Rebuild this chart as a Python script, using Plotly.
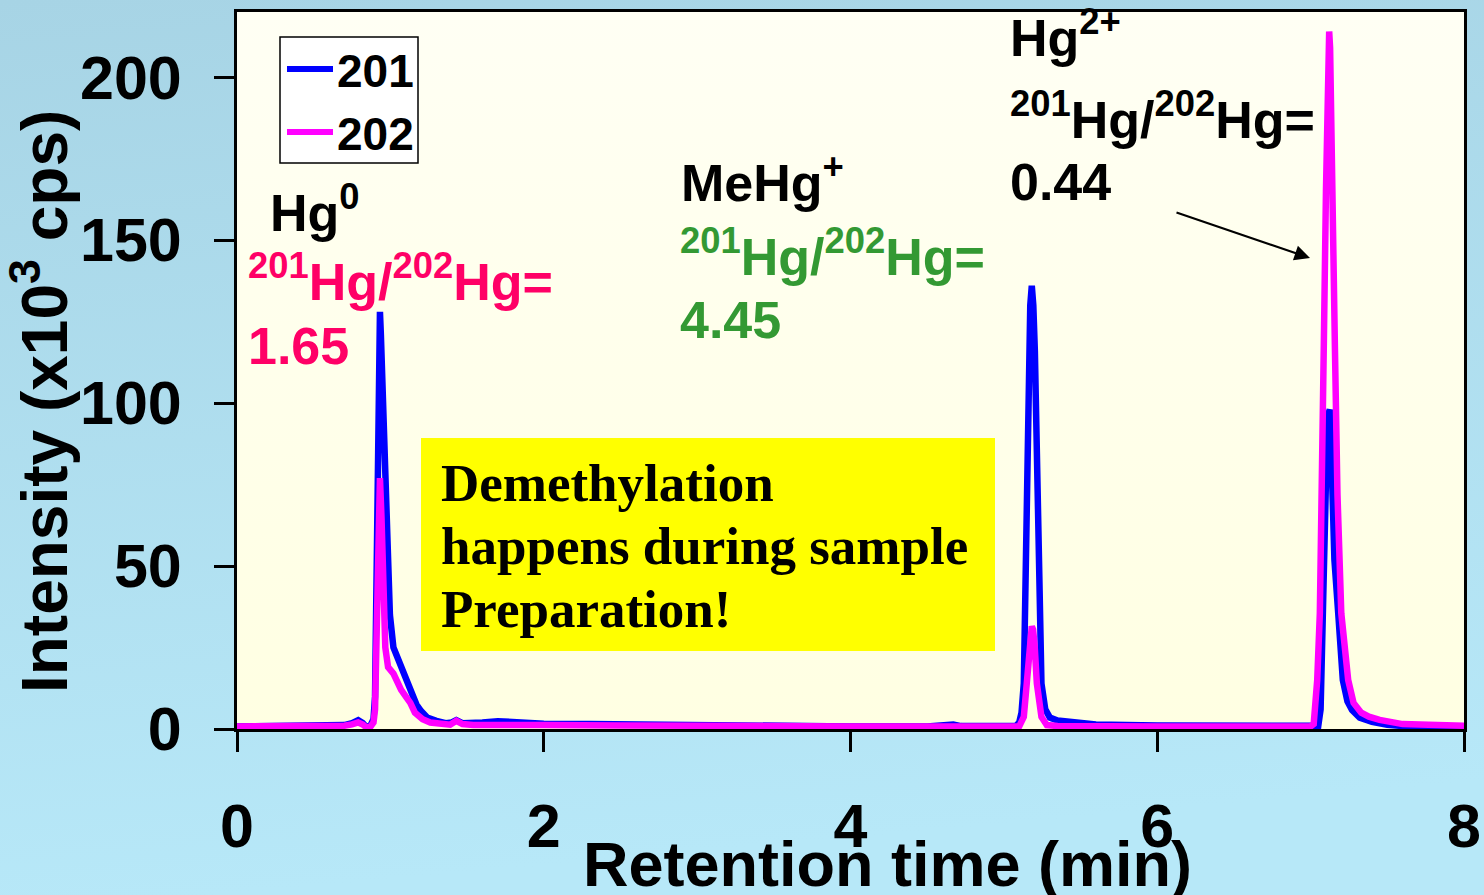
import base64
import plotly.graph_objects as go

# ---------------- data ----------------
t201 = [0.0, 0.3, 0.6, 0.7, 0.75, 0.79, 0.82, 0.84, 0.87, 0.89, 0.90, 0.91, 0.921, 0.927, 0.932,
        0.938, 0.945, 0.958, 0.975, 0.997, 1.02, 1.06, 1.1, 1.14, 1.17, 1.2, 1.24, 1.3, 1.36, 1.4,
        1.43, 1.47, 1.54, 1.6, 1.7, 1.8, 2.0, 2.3, 2.6, 3.0, 3.5, 4.0, 4.5, 4.62, 4.67, 4.72, 5.0,
        5.08, 5.1, 5.115, 5.13, 5.14, 5.15, 5.163, 5.172, 5.182, 5.192, 5.202, 5.215, 5.228,
        5.245, 5.27, 5.3, 5.35, 5.45, 5.6, 6.0, 6.5, 7.0, 7.05, 7.065, 7.08, 7.095, 7.108, 7.118,
        7.125, 7.132, 7.14, 7.155, 7.18, 7.21, 7.24, 7.27, 7.32, 7.4, 7.5, 7.6, 7.8, 8.0]
i201 = [0.8, 0.8, 0.9, 1.2, 1.8, 2.7, 1.8, 0.8, 1.0, 3, 10, 40, 97, 120, 128,
        121, 110, 92, 56, 35, 25, 20, 16, 11, 7.5, 5.5, 3.5, 2.5, 1.8, 2.0,
        2.7, 1.8, 1.8, 2.0, 2.4, 2.0, 1.6, 1.5, 1.3, 1.0, 0.8, 0.8, 0.8, 1.0, 1.4, 0.9, 0.9,
        1.0, 2, 5, 14, 45, 85, 116, 130, 136, 130, 116, 85, 45,
        14, 6, 3.5, 2.6, 2.0, 1.4, 1.1, 0.9, 0.8, 1.0, 6, 35, 76, 92, 97,
        98, 90, 72, 52, 35.5, 15, 8.5, 5.8, 3.5, 2.2, 1.3, 0.9, 0.6, 0.5]

t202 = [0.0, 0.3, 0.6, 0.7, 0.75, 0.79, 0.82, 0.84, 0.87, 0.89, 0.90, 0.915, 0.925, 0.932, 0.942,
        0.952, 0.967, 0.985, 1.02, 1.07, 1.13, 1.16, 1.21, 1.26, 1.32, 1.39, 1.43, 1.47, 1.54,
        1.7, 2.0, 2.5, 3.0, 4.0, 5.0, 5.1, 5.13, 5.15, 5.165, 5.174, 5.182, 5.19, 5.2, 5.215,
        5.245, 5.28, 5.35, 6.0, 7.0, 7.02, 7.043, 7.06, 7.075, 7.086, 7.1, 7.108, 7.115, 7.121,
        7.127, 7.134, 7.142, 7.158, 7.175, 7.2, 7.245, 7.28, 7.33, 7.38, 7.45, 7.6, 7.8, 8.0]
i202 = [0.8, 0.8, 0.8, 1.0, 1.4, 2.0, 1.4, 0.6, 0.7, 2, 6, 40, 68, 77, 65,
        45.6, 25, 19, 17, 12, 8, 5, 3, 2.0, 1.6, 1.3, 2.5, 1.5, 1.2,
        1.3, 1.2, 1.1, 0.9, 0.8, 0.8, 0.8, 3.7, 14, 26, 30.5, 31.5, 30.5, 26, 14,
        3.7, 1.2, 0.9, 0.8, 0.8, 1.5, 15, 35.5, 72, 118, 165, 195, 209, 214,
        209, 195, 165, 118, 72, 35.5, 15, 8, 5, 3.8, 2.8, 1.5, 1.1, 1.0]

series_names = ["201", "202"]
series_colors = ["#0000FF", "#FF00FF"]
x_ticks = [0, 2, 4, 6, 8]
y_ticks = [0, 50, 100, 150, 200]

# ---------------- figure geometry ----------------
W, H = 1484, 895
L, R, T, B = 237, 20, 12, 166
PW, PH = W - L - R, H - T - B

svg = (
    f'<svg xmlns="http://www.w3.org/2000/svg" width="{W}" height="{H}">'
    '<defs>'
    '<linearGradient id="bg" x1="0" y1="0" x2="0.15" y2="1">'
    '<stop offset="0" stop-color="#A7D4E5"/><stop offset="1" stop-color="#B7E8F8"/>'
    '</linearGradient>'
    '<linearGradient id="pl" x1="0" y1="0" x2="0" y2="1">'
    '<stop offset="0" stop-color="#FFFFF4"/><stop offset="1" stop-color="#FFFFE2"/>'
    '</linearGradient>'
    '</defs>'
    f'<rect width="{W}" height="{H}" fill="url(#bg)"/>'
    f'<rect x="{L}" y="{T}" width="{PW}" height="{PH}" fill="url(#pl)"/>'
    '</svg>'
)
src = "data:image/svg+xml;base64," + base64.b64encode(svg.encode()).decode()

FONT = "Liberation Sans, Arial, sans-serif"
SERIF = "Liberation Serif, Times New Roman, serif"

fig = go.Figure()
fig.add_trace(go.Scatter(x=t201, y=i201, mode="lines", name=series_names[0],
                         line=dict(color=series_colors[0], width=6.5), showlegend=False))
fig.add_trace(go.Scatter(x=t202, y=i202, mode="lines", name=series_names[1],
                         line=dict(color=series_colors[1], width=6.5), showlegend=False))

axis_common = dict(showline=True, linecolor="black", linewidth=3, mirror=True,
                   ticks="outside", ticklen=20, tickwidth=3, tickcolor="black",
                   showgrid=False, zeroline=False, automargin=False,
                   tickfont=dict(family=FONT, size=61, color="black", weight="bold"))

fig.update_xaxes(range=[0, 8], tickvals=x_ticks, ticklabelstandoff=22, **axis_common)
fig.update_yaxes(range=[0, 220], tickvals=y_ticks, ticklabelstandoff=20, **axis_common)


def px_to_paper(px, py):
    return (px - L) / PW, (H - B - py) / PH


ann = []
shapes = []


def txt(text, px, py, color="black", size=52, family=FONT, xanchor="left", angle=0):
    x, y = px_to_paper(px, py)
    ann.append(dict(text=text, x=x, y=y, xref="paper", yref="paper", xanchor=xanchor,
                    yanchor="middle", showarrow=False, textangle=angle,
                    font=dict(family=family, size=size, color=color, weight="bold")))


PINK = "#FF0066"
GREEN = "#339933"
txt("Hg<sup>0</sup>", 268, 209)
txt("<sup>201</sup>Hg/<sup>202</sup>Hg=", 246, 278, color=PINK)
txt("1.65", 246, 346, color=PINK)
txt("MeHg<sup>+</sup>", 679, 179)
txt("<sup>201</sup>Hg/<sup>202</sup>Hg=", 678, 253, color=GREEN)
txt("4.45", 678, 320, color=GREEN)
txt("Hg<sup>2+</sup>", 1008, 34)
txt("<sup>201</sup>Hg/<sup>202</sup>Hg=", 1008, 116)
txt("0.44", 1008, 182)

txt("Demethylation", 439, 483, size=53, family=SERIF)
txt("happens during sample", 439, 546, size=53, family=SERIF)
txt("Preparation!", 439, 609, size=53, family=SERIF)

txt("Intensity (x10<sup>3</sup> cps)", 40, 402, size=64, xanchor="center", angle=-90)
txt("Retention time (min)", 887, 864, size=63, xanchor="center")

# arrow pointing at the Hg2+ peak
hx, hy = px_to_paper(1310, 258)
ann.append(dict(x=hx, y=hy, xref="paper", yref="paper", ax=-135, ay=-46,
                axref="pixel", ayref="pixel", showarrow=True, arrowhead=2,
                arrowsize=1.4, arrowwidth=2.2, arrowcolor="black", text=""))

# yellow note box
xb0, yb0 = px_to_paper(421, 651)
xb1, yb1 = px_to_paper(995, 438)
shapes.append(dict(type="rect", xref="paper", yref="paper", x0=xb0, x1=xb1, y0=yb0, y1=yb1,
                   fillcolor="#FFFF00", line=dict(width=0), layer="below"))

# legend box (drawn by hand to match the long line samples)
lx0, ly0 = px_to_paper(280, 163)
lx1, ly1 = px_to_paper(418, 37)
shapes.append(dict(type="rect", xref="paper", yref="paper", x0=lx0, x1=lx1, y0=ly0, y1=ly1,
                   fillcolor="white", line=dict(color="black", width=1.5), layer="above"))
for k, (nm, col) in enumerate(zip(series_names, series_colors)):
    ypx = 69 + k * 63
    sx0, sy = px_to_paper(287, ypx)
    sx1, _ = px_to_paper(333, ypx)
    shapes.append(dict(type="line", xref="paper", yref="paper", x0=sx0, x1=sx1, y0=sy, y1=sy,
                       line=dict(color=col, width=6), layer="above"))
    txt(nm, 335, ypx + 2, size=46)

fig.update_layout(
    width=W, height=H, autosize=False,
    margin=dict(l=L, r=R, t=T, b=B, pad=0),
    paper_bgcolor="#B0DEEF", plot_bgcolor="rgba(0,0,0,0)",
    showlegend=False,
    images=[dict(source=src, xref="paper", yref="paper", x=-L / PW, y=1 + T / PH,
                 sizex=W / PW, sizey=H / PH, xanchor="left", yanchor="top",
                 sizing="stretch", layer="below")],
    shapes=shapes,
    annotations=ann,
)

fig.write_html("out.html")
